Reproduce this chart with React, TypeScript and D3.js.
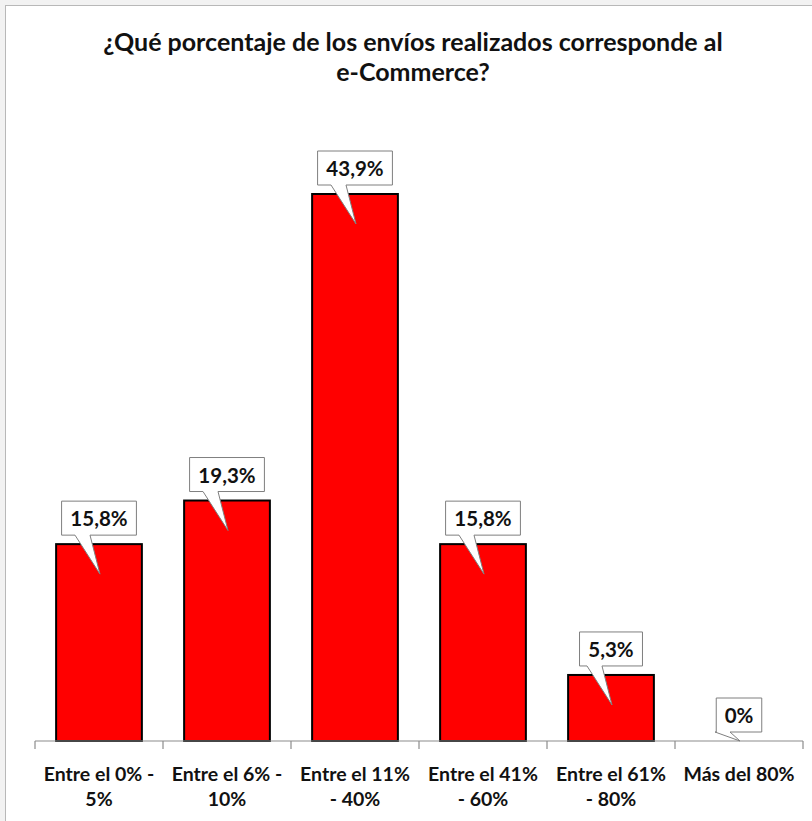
import React from "react";
import * as d3 from "d3";

const categories: string[][] = [
  ["Entre el 0% -", "5%"],
  ["Entre el 6% -", "10%"],
  ["Entre el 11%", "- 40%"],
  ["Entre el 41%", "- 60%"],
  ["Entre el 61%", "- 80%"],
  ["Más del 80%"],
];
const values: number[] = [15.8, 19.3, 43.9, 15.8, 5.3, 0];
const valueLabels: string[] = ["15,8%", "19,3%", "43,9%", "15,8%", "5,3%", "0%"];
const titleLines: string[] = ["¿Qué porcentaje de los envíos realizados corresponde al", "e-Commerce?"];

const W = 812;
const H = 821;
const FONT = "Lato, 'Open Sans', sans-serif";

function textWidth(s: string, size: number): number {
  let w = 0;
  for (const ch of s) {
    if (ch === "%") w += 0.86;
    else if (ch === ",") w += 0.27;
    else w += 0.58;
  }
  return w * size;
}

export default function App() {
  const x0 = 35;
  const x1 = 803;
  const baseY = 741;
  const x = d3.scaleBand<number>().domain(d3.range(values.length)).range([x0, x1]).paddingInner(0.33).paddingOuter(0.165);
  const y = d3.scaleLinear().domain([0, 50]).range([baseY, baseY - 12.46 * 50]);
  const step = (x1 - x0) / values.length;
  const ticks = d3.range(values.length + 1).map((i) => x0 + i * step);
  const labelSize = 20.5;

  return (
    <svg width={W} height={H} style={{ position: "absolute", left: 0, top: 0, background: "#f2f2f2" }} fontFamily={FONT}>
      <rect x={5.5} y={5.5} width={W + 10} height={H + 10} fill="#ffffff" stroke="#b8b8b8" strokeWidth={1} />
      {titleLines.map((t, i) => (
        <text key={i} x={413} y={51 + i * 30} textAnchor="middle" fontSize={25} fontWeight={700} fill="#111">
          {t}
        </text>
      ))}
      {values.map((v, i) => {
        const bx = x(i)!;
        const bw = x.bandwidth();
        const top = y(v);
        return (
          <rect key={"b" + i} x={bx} y={top} width={bw} height={baseY - top} fill="#ff0000" stroke="#000" strokeWidth={2} />
        );
      })}
      <line x1={x0} x2={x1} y1={baseY} y2={baseY} stroke="#8c8c8c" strokeWidth={1.2} />
      {ticks.map((t, i) => (
        <line key={"t" + i} x1={t} x2={t} y1={baseY} y2={baseY + 8} stroke="#8c8c8c" strokeWidth={1.2} />
      ))}
      {values.map((v, i) => {
        const cx = x(i)! + x.bandwidth() / 2;
        const top = y(v);
        const h = baseY - top;
        const tipY = top + Math.min(30, h / 2);
        const label = valueLabels[i];
        const bwid = textWidth(label, labelSize) + 16;
        const bh = 34;
        const bb = top - 9;
        const bt = bb - bh;
        const bl = cx - bwid / 2;
        const br = cx + bwid / 2;
        const p1 = cx - 24;
        const p2 = cx - 9;
        const path = `M${bl},${bt} L${br},${bt} L${br},${bb} L${p2},${bb} L${cx + 1},${tipY} L${p1},${bb} L${bl},${bb} Z`;
        return (
          <g key={"l" + i}>
            <path d={path} fill="#fff" stroke="#7f7f7f" strokeWidth={1} />
            <text x={cx} y={bb - 9} textAnchor="middle" fontSize={labelSize} fontWeight={700} fill="#111">
              {label}
            </text>
          </g>
        );
      })}
      {categories.map((lines, i) => {
        const cx = x0 + (i + 0.5) * step;
        return (
          <text key={"c" + i} textAnchor="middle" fontSize={19.5} fontWeight={700} fill="#111">
            {lines.map((ln, j) => (
              <tspan key={j} x={cx} y={781 + j * 25}>
                {ln}
              </tspan>
            ))}
          </text>
        );
      })}
    </svg>
  );
}
